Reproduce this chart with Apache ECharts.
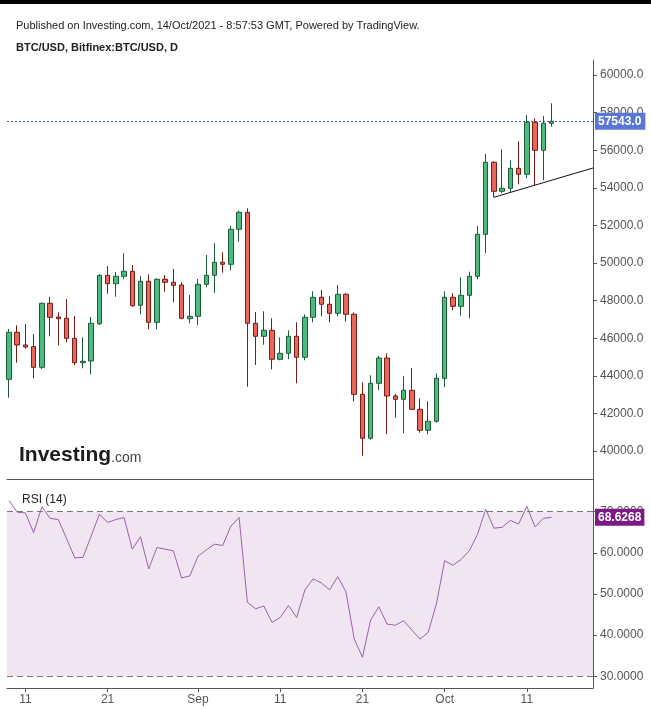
<!DOCTYPE html>
<html><head><meta charset="utf-8">
<script src="https://cdn.jsdelivr.net/npm/echarts@6/dist/echarts.min.js"></script>
<style>
html,body{margin:0;padding:0;background:#fff;}
#c{position:absolute;left:0;top:0;width:651px;height:709px;}
#bar{position:absolute;left:0;top:0;width:651px;height:4px;background:#000;}
</style>
</head><body><div id="c"></div><div id="bar"></div>
<script>
// ---- data (daily BTC/USD, Bitfinex) ----
const dates = ['Aug 9','Aug 10','Aug 11','Aug 12','Aug 13','Aug 14','Aug 15','Aug 16','Aug 17','Aug 18',
  'Aug 19','Aug 20','Aug 21','Aug 22','Aug 23','Aug 24','Aug 25','Aug 26','Aug 27','Aug 28',
  'Aug 29','Aug 30','Aug 31','Sep 1','Sep 2','Sep 3','Sep 4','Sep 5','Sep 6','Sep 7',
  'Sep 8','Sep 9','Sep 10','Sep 11','Sep 12','Sep 13','Sep 14','Sep 15','Sep 16','Sep 17',
  'Sep 18','Sep 19','Sep 20','Sep 21','Sep 22','Sep 23','Sep 24','Sep 25','Sep 26','Sep 27',
  'Sep 28','Sep 29','Sep 30','Oct 1','Oct 2','Oct 3','Oct 4','Oct 5','Oct 6','Oct 7',
  'Oct 8','Oct 9','Oct 10','Oct 11','Oct 12','Oct 13','Oct 14'];
const open  = [43819,46319,45644,45560,44457,47862,47133,47064,46000,44702,
  44792,46777,49351,48904,49298,49564,47755,49032,46851,49139,
  48979,48835,47043,47170,48872,49351,50043,49936,51798,52702,
  46798,46106,46425,44883,45202,46106,44990,47117,48181,47809,
  47330,48340,47277,43021,40681,43607,44952,42931,42755,43234,
  42224,41107,41586,43872,48181,47702,48287,49298,51532,55362,
  53819,53979,55043,54723,57489,56000,57436];
const high  = [46495,46692,46760,46229,47894,48197,47383,48090,47186,46053,
  47133,49420,49846,49527,50521,49899,49314,49404,49191,49367,
  49686,48979,48303,49154,50431,51053,50575,51974,52788,52915,
  47399,47436,47064,46053,46425,46851,47277,48500,48569,48234,
  48835,48394,47383,43660,44032,45075,45202,43038,43995,44420,
  42809,42649,44138,48500,48394,49245,49543,51974,55803,55420,
  56053,55468,56479,57877,57702,57825,58500];
const low   = [42841,44702,45447,43872,44367,46106,45628,45787,44564,44405,
  44085,46707,48372,48213,49139,47681,47277,46479,46479,48479,
  47915,47011,46798,46692,48712,48426,49490,49617,51138,43426,
  44580,45660,44351,44830,44883,43607,44830,46851,47170,46851,
  47170,46883,42649,39756,40600,43250,40894,41777,40947,42180,
  40979,40894,41511,43394,47505,47202,47064,49139,50521,53500,
  53729,53766,54191,54510,54138,54404,57255];
const close = [46319,45644,45537,44457,47862,47117,47043,46000,44702,44777,
  46798,49351,48904,49298,49564,47734,49032,46851,49139,48979,
  48819,47064,47170,48872,49351,50043,49936,51798,52702,46798,
  46106,46425,44883,45202,46106,44990,47117,48181,47809,47330,
  48340,47277,43021,40681,43607,44952,42931,42755,43234,42224,
  41107,41586,43872,48181,47702,48287,49298,51532,55362,53819,
  53979,55043,54723,57489,56000,57436,57543];
const rsi = [72.7,69.9,69.7,64.9,71.2,68.4,68.1,63.5,58.8,58.9,
  64.1,69.4,67.4,68.1,68.6,60.9,63.9,56.1,61.3,60.9,
  60.5,53.9,54.4,59.2,60.7,62.1,61.8,66.5,68.6,48.0,
  46.4,47.1,43.1,44.3,47.2,44.3,51.0,53.7,52.7,51.0,
  54.2,50.5,39.1,34.6,43.7,46.9,42.7,42.4,43.5,41.3,
  39.0,40.7,47.6,58.1,57.0,58.4,60.5,64.5,70.6,66.0,
  66.2,67.9,67.0,71.3,66.3,68.4,68.6268];
const lastPrice = 57543.0;
const lastRsi = 68.6268;
// trend line drawn on the chart (day index, price)
const trendX = [59, 71.05];
const trendY = [53500, 55060];
// axis ticks
const xTickIdx = [2, 12, 23, 33, 43, 53, 63];
const xTickLabels = ['11', '21', 'Sep', '11', '21', 'Oct', '11'];
const priceTicks = [40000, 42000, 44000, 46000, 48000, 50000, 52000, 54000, 56000, 58000, 60000];
const rsiTicks = [30, 40, 50, 60, 70];

const FONT = '"Liberation Sans", Arial, sans-serif';
const candles = dates.map((d, i) => [i, open[i], close[i], low[i], high[i]]);
const rsiData = rsi.map((v, i) => [i, v]);
const trendData = trendX.map((x, i) => [x, trendY[i]]);

const chart = echarts.init(document.getElementById('c'), null, {renderer: 'canvas'});
const axisCol = '#555';
const option = {
  animation: false,
  backgroundColor: '#fff',
  textStyle: {fontFamily: FONT},
  title: [
    {text: 'Published on Investing.com, 14/Oct/2021 - 8:57:53 GMT, Powered by TradingView.', left: 11, top: 15,
      textStyle: {fontSize: 11, fontWeight: 'normal', color: '#222', fontFamily: FONT}},
    {text: 'BTC/USD, Bitfinex:BTC/USD, D', left: 11, top: 37,
      textStyle: {fontSize: 11, fontWeight: 'bold', color: '#222', fontFamily: FONT}},
    {text: 'RSI (14)', left: 17, top: 489,
      textStyle: {fontSize: 12, fontWeight: 'normal', color: '#222', fontFamily: FONT}}
  ],
  graphic: [{
    type: 'text', left: 19, top: 445, z: 0,
    style: {
      text: '{a|Investing}{b|.com}',
      rich: {
        a: {fontSize: 21, fontWeight: 'bold', fill: '#1c1c1c', fontFamily: FONT},
        b: {fontSize: 14, fill: '#444', fontFamily: FONT, padding: [5, 0, 0, 0]}
      }
    }
  }],
  grid: [
    {left: 7, right: 58, top: 60, bottom: 230},
    {left: 7, right: 58, top: 479, bottom: 21}
  ],
  xAxis: [
    {type: 'value', gridIndex: 0, min: -0.24, max: 71.05,
      axisLine: {show: true, onZero: false, lineStyle: {color: axisCol}},
      axisTick: {show: false}, axisLabel: {show: false}, splitLine: {show: false}},
    {type: 'value', gridIndex: 1, min: -0.24, max: 71.05,
      axisLine: {show: true, onZero: false, lineStyle: {color: axisCol}},
      axisTick: {show: true, customValues: xTickIdx, length: 4, lineStyle: {color: axisCol}},
      axisLabel: {customValues: xTickIdx, color: '#555', fontSize: 12, margin: 6,
        formatter: v => xTickLabels[xTickIdx.indexOf(v)]},
      splitLine: {show: false}}
  ],
  yAxis: [
    {type: 'value', gridIndex: 0, position: 'right', min: 38516, max: 60803, scale: true,
      axisLine: {show: true, onZero: false, lineStyle: {color: axisCol}},
      axisTick: {show: true, customValues: priceTicks, length: 4, lineStyle: {color: axisCol}},
      axisLabel: {customValues: priceTicks, color: '#555', fontSize: 12, margin: 7,
        formatter: v => v.toFixed(1)},
      splitLine: {show: false}},
    {type: 'value', gridIndex: 1, position: 'right', min: 27.16, max: 77.95, scale: true,
      axisLine: {show: true, onZero: false, lineStyle: {color: axisCol}},
      axisTick: {show: true, customValues: rsiTicks, length: 4, lineStyle: {color: axisCol}},
      axisLabel: {customValues: rsiTicks, color: '#555', fontSize: 12, margin: 7,
        formatter: v => v.toFixed(4)},
      splitLine: {show: false}}
  ],
  series: [
    {type: 'candlestick', xAxisIndex: 0, yAxisIndex: 0, data: candles, barWidth: 5,
      itemStyle: {color: '#4cbb80', color0: '#e8675a', borderColor: '#1f5a37', borderColor0: '#761c12', borderWidth: 1},
      markLine: {symbol: 'none', silent: true, animation: false,
        lineStyle: {color: '#3f5f9e', type: [2, 2], width: 1},
        label: {show: true, position: 'end', distance: 2, formatter: () => lastPrice.toFixed(1),
          color: '#fff', backgroundColor: '#5a77d8', padding: [3, 4, 2, 3], fontSize: 12, fontWeight: 'bold', fontFamily: FONT},
        data: [{yAxis: lastPrice}]}
    },
    {type: 'line', xAxisIndex: 0, yAxisIndex: 0, data: trendData, symbol: 'none', silent: true,
      lineStyle: {color: '#111', width: 1}},
    {type: 'line', xAxisIndex: 1, yAxisIndex: 1, data: rsiData, symbol: 'none', silent: true,
      lineStyle: {color: '#9a62a8', width: 1},
      markArea: {silent: true, itemStyle: {color: '#f2e5f2'}, data: [[{yAxis: 70}, {yAxis: 30}]]},
      markLine: {symbol: 'none', silent: true, animation: false,
        data: [
          {yAxis: 70, lineStyle: {color: '#777', type: [6, 4], width: 1}, label: {show: false}},
          {yAxis: 30, lineStyle: {color: '#777', type: [6, 4], width: 1}, label: {show: false}},
          {yAxis: lastRsi, lineStyle: {color: 'rgba(0,0,0,0)', width: 0},
            label: {show: true, position: 'end', distance: 2, formatter: () => lastRsi.toFixed(4),
              color: '#fff', backgroundColor: '#7d1a85', padding: [3, 3, 2, 3], fontSize: 12, fontWeight: 'bold', fontFamily: FONT}}
        ]}
    }
  ]
};
chart.setOption(option);
</script></body></html>
